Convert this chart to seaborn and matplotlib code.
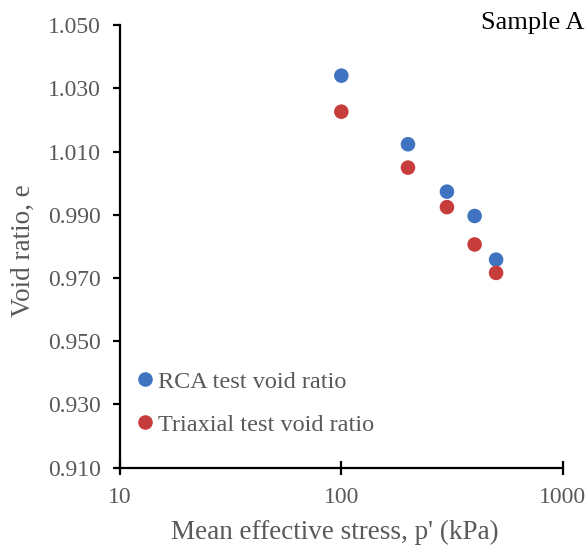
import numpy as np
import pandas as pd
import matplotlib
matplotlib.use("Agg")
import matplotlib.pyplot as plt
import matplotlib.ticker as mticker
import seaborn as sns

# data
stress = [100, 200, 300, 400, 500]
rca_e = [1.034, 1.0123, 0.9973, 0.9896, 0.9758]
triax_e = [1.0226, 1.0049, 0.9924, 0.9806, 0.9716]
series = ["RCA test void ratio", "Triaxial test void ratio"]
colors = ["#4174C0", "#C63D3B"]

df = pd.DataFrame({
    "p": stress + stress,
    "e": rca_e + triax_e,
    "series": [series[0]] * len(stress) + [series[1]] * len(stress),
})

sns.set_style("white")
plt.rcParams["font.family"] = ["Liberation Serif", "DejaVu Serif"]

fig = plt.figure(figsize=(5.88, 5.45), dpi=100)
ax = fig.add_axes([0.204, 0.142, 0.753, 0.812])

sns.scatterplot(data=df, x="p", y="e", hue="series", palette=colors,
                s=110, edgecolor="none", ax=ax, zorder=3)

ax.set_xscale("log")
ax.set_xlim(10, 1000)
ax.set_ylim(0.910, 1.050)
ax.set_yticks(np.arange(0.910, 1.0501, 0.020))
ax.yaxis.set_major_formatter(mticker.FormatStrFormatter("%.3f"))
ax.xaxis.set_major_locator(mticker.FixedLocator([10, 100, 1000]))
ax.xaxis.set_major_formatter(mticker.FormatStrFormatter("%d"))
ax.xaxis.set_minor_locator(mticker.NullLocator())

for side in ["top", "right"]:
    ax.spines[side].set_visible(False)
for side in ["left", "bottom"]:
    ax.spines[side].set_color("black")
    ax.spines[side].set_linewidth(1.6)

ax.tick_params(axis="y", direction="out", length=5, width=1.6, color="black",
               labelsize=17, labelcolor="#595959", pad=9, left=True)
ax.tick_params(axis="x", direction="inout", length=9.5, width=1.6, color="black",
               labelsize=17, labelcolor="#595959", pad=9, bottom=True)

ax.set_xlabel("Mean effective stress, p' (kPa)", fontsize=19.5, color="#595959", va="center")
ax.xaxis.set_label_coords(0.485, -0.146)
ax.set_ylabel("Void ratio, e", fontsize=19.5, color="#595959", va="center")
ax.yaxis.set_label_coords(-0.217, 0.491)

fig.text(481 / 588, 1 - 23 / 545, "Sample A", fontsize=19,
         color="black", ha="left", va="center")

leg = ax.legend(loc="center left", bbox_to_anchor=(137.7 / 588, 1 - 403.3 / 545),
                bbox_transform=fig.transFigure, frameon=False,
                fontsize=17.5, handlelength=0.6, handletextpad=0.25,
                labelspacing=0.85, borderpad=0, borderaxespad=0,
                labelcolor="#595959", markerscale=1.0)

fig.savefig("out.png", dpi=100)
